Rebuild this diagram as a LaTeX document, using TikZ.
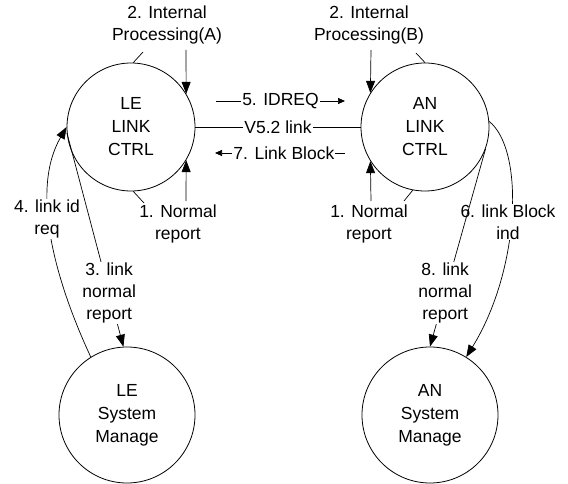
\documentclass[tikz,border=0pt]{standalone}
\usepackage{fontspec}
\setmainfont{Liberation Sans}
\usetikzlibrary{arrows.meta}
\begin{document}
\begin{tikzpicture}[x=1pt,y=-1pt,
  every node/.style={font=\fontsize{17.5}{22}\selectfont, inner sep=1pt, align=center},
  proc/.style={draw, circle, line width=0.8pt, inner sep=0pt, font=\fontsize{17.5}{23}\selectfont},
  conn/.style={line width=0.7pt},
  arr/.style={conn, -{Triangle[length=12pt,width=9pt]}},
  sarr/.style={conn, -{Triangle[length=7pt,width=6pt]}},
  lbl/.style={fill=white, inner sep=1pt}]
\path[use as bounding box] (0,0) rectangle (568,484);
% processes
\node[proc, minimum size=128pt] (A) at (131,127) {LE\\LINK\\CTRL};
\node[proc, minimum size=128pt] (B) at (425,127) {AN\\LINK\\CTRL};
\node[proc, minimum size=136pt] (C) at (127,415) {LE\\System\\Manage};
\node[proc, minimum size=136pt] (D) at (430,415) {AN\\System\\Manage};
% top / bottom labels
\node (t2a) at (167,25) {2. Internal\\Processing(A)};
\node (t1a) at (178,224) {1. Normal\\report};
\node (t2b) at (369,25) {2. Internal\\Processing(B)};
\node (t1b) at (369,224) {1. Normal\\report};
% vertical arrows
\coordinate (a2s) at (186,50);
\coordinate (a1s) at (186,201);
\coordinate (b2s) at (371,50);
\coordinate (b1s) at (371,201);
\draw[arr] (a2s) -- (A.31);
\draw[arr] (a1s) -- (A.-31);
\draw[arr] (b2s) -- (B.148);
\draw[arr] (b1s) -- (B.212);
% leader ticks
\coordinate (k1) at (143,52);
\coordinate (k2) at (144,203);
\coordinate (k3) at (416,53);
\coordinate (k4) at (404,201);
\draw[conn] (k1) -- (A.88);
\draw[conn] (A.-88) -- (k2);
\draw[conn] (k3) -- (B.90);
\draw[conn] (B.-101) -- (k4);
% middle flows
\coordinate (i5s) at (216,101);
\coordinate (i5e) at (345,101);
\coordinate (i7s) at (345,153);
\coordinate (i7e) at (215,153);
\draw[sarr] (i5s) -- node[lbl, pos=0.5] (l5) {5. IDREQ} (i5e);
\draw[conn] (A.east) -- node[lbl] (lv) {V5.2 link} (B.west);
\draw[sarr] (i7s) -- node[lbl, pos=0.47] (l7) {7. Link Block} (i7e);
% left flows
\draw[arr] (C.122) .. controls (55,280) and (30,190) .. (A.180);
\node[lbl] (l4) at (47,219) {4. link id\\req};
\draw[arr] (A.185) -- node[lbl, pos=0.748] (l3) {3. link\\normal\\report} (C.93);
% right flows
\draw[arr] (B.5) .. controls (525,150) and (520,270) .. (D.58);
\node[lbl] (l6) at (508,222) {6. link Block\\ind};
\draw[arr] (B.-20) -- node[lbl, pos=0.727] (l8) {8. link\\normal\\report} (D.90);
\end{tikzpicture}
\end{document}
